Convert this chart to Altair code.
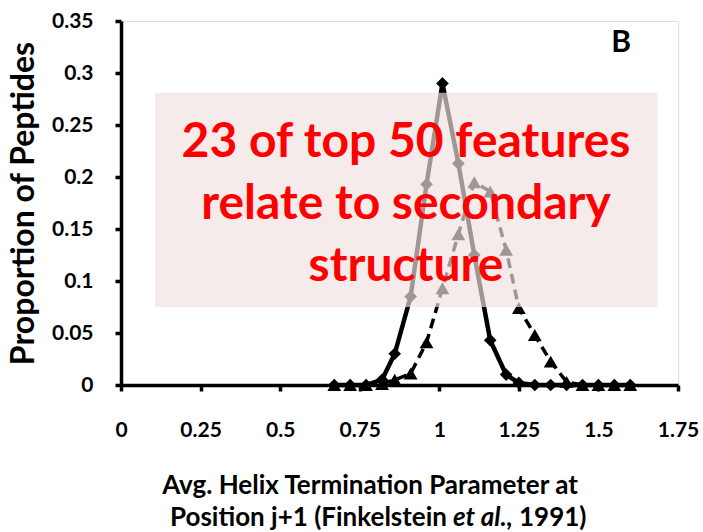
import altair as alt
import pandas as pd

# ---- data ----
x_vals = [0.67, 0.72, 0.77, 0.82, 0.86, 0.91, 0.96, 1.01, 1.06, 1.11,
          1.16, 1.21, 1.25, 1.30, 1.35, 1.40, 1.45, 1.50, 1.55, 1.60]
diamond_vals = [0, 0, 0, 0.005, 0.03, 0.085, 0.193, 0.29, 0.213, 0.125,
                0.043, 0.01, 0.002, 0, 0, 0, 0, 0, 0, 0]
triangle_vals = [0, 0, 0, 0.001, 0.005, 0.011, 0.041, 0.093, 0.145, 0.195,
                 0.186, 0.13, 0.074, 0.048, 0.0225, 0.003, 0, 0, 0, 0]

x_ticks = [0, 0.25, 0.5, 0.75, 1, 1.25, 1.5, 1.75]
y_ticks = [0, 0.05, 0.1, 0.15, 0.2, 0.25, 0.3, 0.35]

box_text = ["23 of top 50 features", "relate to secondary", "structure"]
panel_label = "B"
y_title = "Proportion of Peptides"
x_title_line1 = "Avg. Helix Termination Parameter at"
x_title_line2_a = "Position j+1 (Finkelstein"
x_title_line2_b = "et al.,"
x_title_line2_c = "1991)"

# annotation box extent (data units)
box_x = [0.107, 1.686]
box_y = [0.075, 0.281]

FONT = "Lato"

df_d = pd.DataFrame({"x": x_vals, "y": diamond_vals})
df_t = pd.DataFrame({"x": x_vals, "y": triangle_vals})
df_box = pd.DataFrame({"x": [box_x[0]], "x2": [box_x[1]], "y": [box_y[0]], "y2": [box_y[1]]})
one = pd.DataFrame({"k": [0]})

xs = alt.Scale(domain=[0, 1.75], nice=False, zero=False)
ys = alt.Scale(domain=[0, 0.35], nice=False)

LBL = "'' + datum.value"

x_axis = alt.Axis(values=x_ticks, labelExpr=LBL, title=None, grid=False,
                  domainWidth=3.5, domainColor="black", tickWidth=3.5, tickSize=6,
                  tickColor="black", labelFont=FONT, labelFontSize=21,
                  labelFontWeight="bold", labelColor="black", labelPadding=28,
                  labelFlush=False)
y_axis = alt.Axis(values=y_ticks, labelExpr=LBL, title=y_title, grid=False,
                  domainWidth=3.5, domainColor="black", tickWidth=3.5, tickSize=6,
                  tickColor="black", labelFont=FONT, labelFontSize=21,
                  labelFontWeight="bold", labelColor="black", labelPadding=22,
                  titleFont=FONT, titleFontSize=32, titleFontWeight="bold",
                  titleColor="black", titleX=-88, titleY=182, titleAngle=270,
                  titleAlign="center", titleBaseline="alphabetic")

X = alt.X("x:Q", scale=xs, axis=x_axis)
Y = alt.Y("y:Q", scale=ys, axis=y_axis)

d_line = alt.Chart(df_d).mark_line(color="black", strokeWidth=4.5).encode(x=X, y=Y)
d_pts = alt.Chart(df_d).mark_point(shape="diamond", filled=True, size=160,
                                   color="black", opacity=1).encode(x=X, y=Y)
t_line = alt.Chart(df_t).mark_line(color="black", strokeWidth=3.5,
                                   strokeDash=[10, 6]).encode(x=X, y=Y)
t_pts = alt.Chart(df_t).mark_point(shape="triangle-up", filled=True, size=190,
                                   color="black", opacity=1).encode(x=X, y=Y)

box = alt.Chart(df_box).mark_rect(color="#f0e1e1", opacity=0.667).encode(
    x=alt.X("x:Q", scale=xs), x2="x2:Q", y=alt.Y("y:Q", scale=ys), y2="y2:Q")

red_text = alt.Chart(one).mark_text(
    font=FONT, fontSize=48, fontWeight="bold", color="#ff0000", align="center",
    baseline="alphabetic", lineHeight=62).encode(
    x=alt.value(285), y=alt.value(136), text=alt.value(box_text))

b_text = alt.Chart(one).mark_text(
    font=FONT, fontSize=30, fontWeight="bold", color="black", align="center",
    baseline="alphabetic").encode(x=alt.value(500), y=alt.value(31),
                                  text=alt.value(panel_label))

tstyle = dict(font=FONT, fontSize=26, fontWeight="bold", color="black",
              baseline="alphabetic")
xt1 = alt.Chart(one).mark_text(align="center", **tstyle).encode(
    x=alt.value(249), y=alt.value(473), text=alt.value(x_title_line1))
xt2a = alt.Chart(one).mark_text(align="right", **tstyle).encode(
    x=alt.value(326), y=alt.value(505), text=alt.value(x_title_line2_a))
xt2b = alt.Chart(one).mark_text(align="left", fontStyle="italic", **tstyle).encode(
    x=alt.value(332), y=alt.value(505), text=alt.value(x_title_line2_b))
xt2c = alt.Chart(one).mark_text(align="left", **tstyle).encode(
    x=alt.value(398), y=alt.value(505), text=alt.value(x_title_line2_c))

chart = alt.layer(d_line, d_pts, t_line, t_pts, box, red_text, b_text,
                  xt1, xt2a, xt2b, xt2c).properties(
    width=557, height=364,
    autosize=alt.AutoSizeParams(type="none"),
    padding={"left": 121, "top": 21, "right": 25, "bottom": 147},
).configure_view(stroke=None).configure(background="white")

chart.save("out.html", embed_options={"renderer": "svg", "actions": False})
